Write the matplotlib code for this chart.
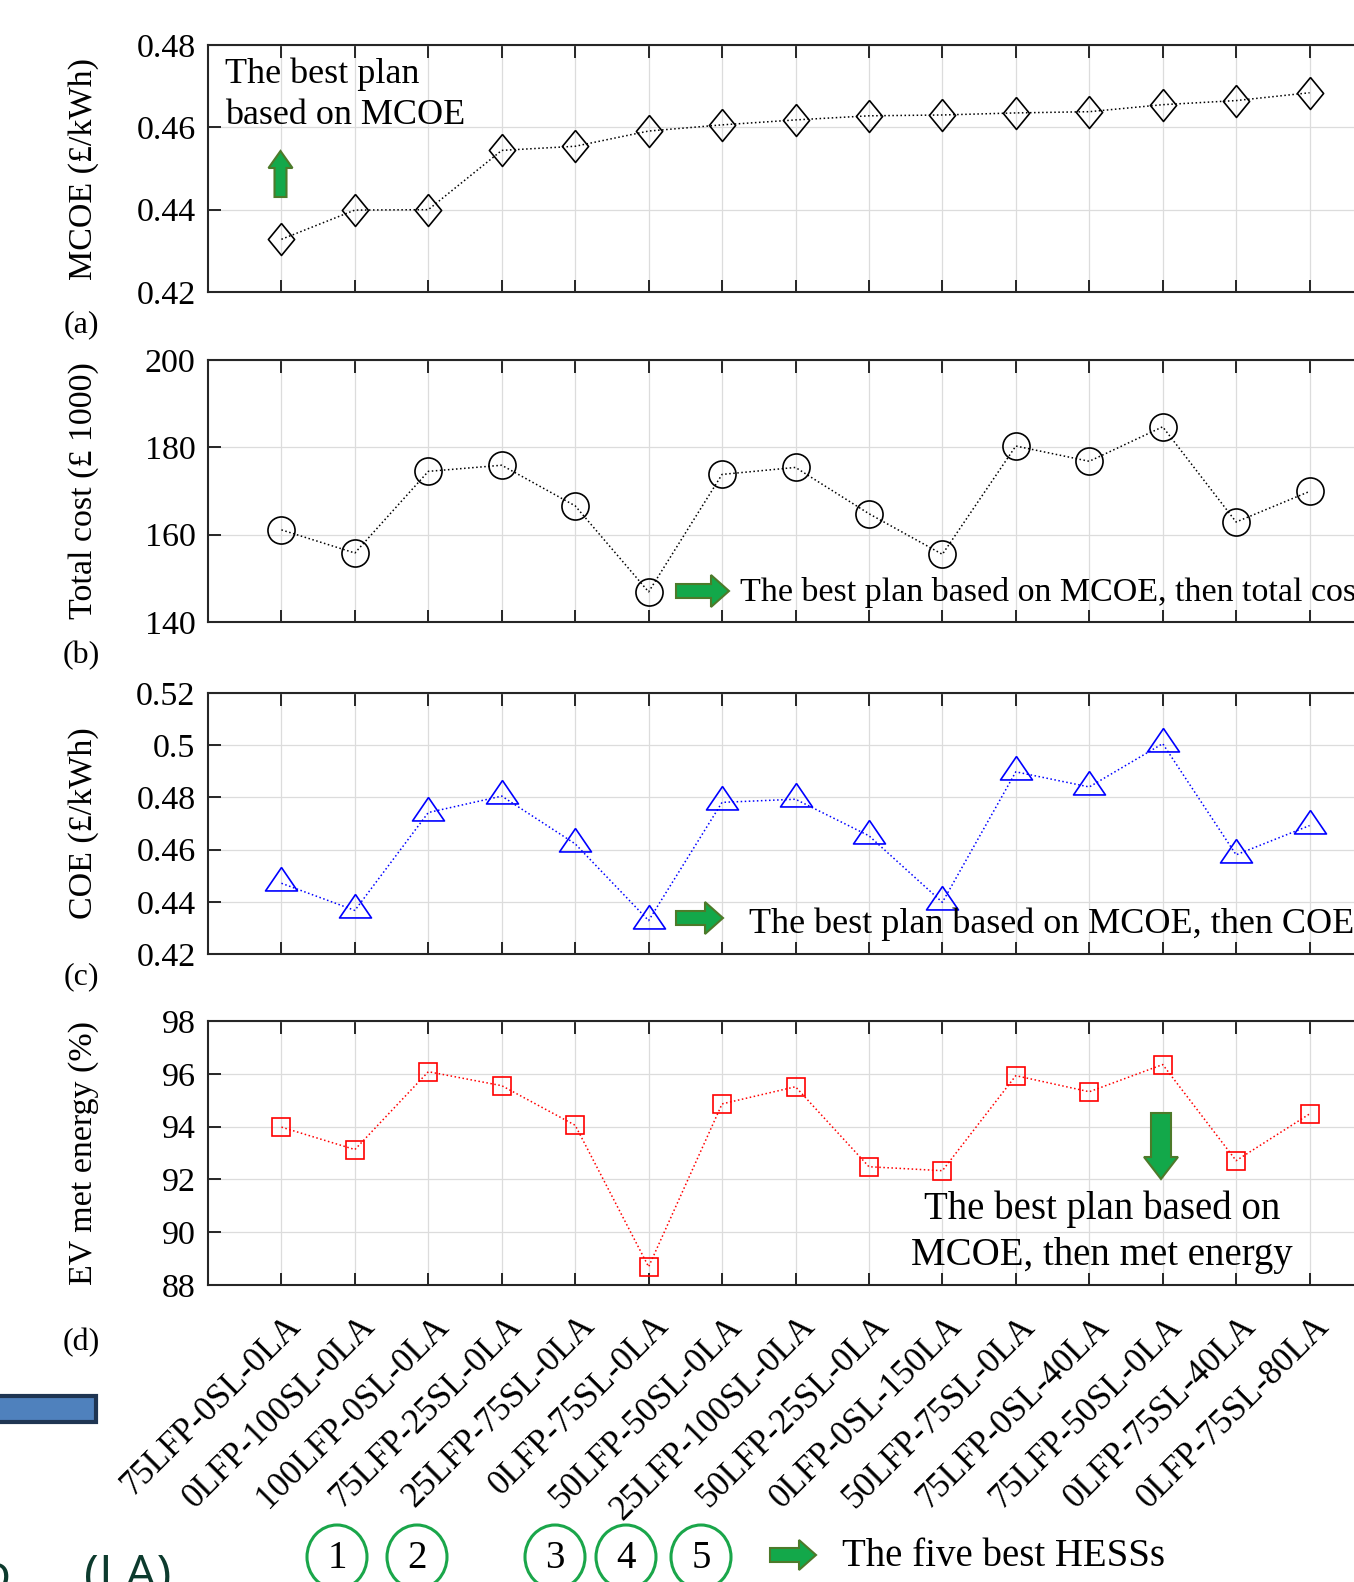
import numpy as np
import matplotlib
matplotlib.use("Agg")
import matplotlib.pyplot as plt
import matplotlib.transforms as mtransforms
from matplotlib.patches import FancyArrow, Ellipse, Rectangle
from matplotlib.path import Path
from matplotlib.ticker import FuncFormatter

plt.rcParams['font.family'] = ['Liberation Serif', 'DejaVu Serif']
plt.rcParams['mathtext.fontset'] = 'stix'

# plans (x axis), sorted by MCOE
plans = ['75LFP-0SL-0LA', '0LFP-100SL-0LA', '100LFP-0SL-0LA', '75LFP-25SL-0LA',
         '25LFP-75SL-0LA', '0LFP-75SL-0LA', '50LFP-50SL-0LA', '25LFP-100SL-0LA',
         '50LFP-25SL-0LA', '0LFP-0SL-150LA', '50LFP-75SL-0LA', '75LFP-0SL-40LA',
         '75LFP-50SL-0LA', '0LFP-75SL-40LA', '0LFP-75SL-80LA']

mcoe = [0.4328, 0.4399, 0.4400, 0.4544, 0.4554, 0.4591, 0.4606, 0.4618,
        0.4628, 0.4630, 0.4635, 0.4638, 0.4655, 0.4665, 0.4684]
total_cost = [161.1, 155.8, 174.5, 175.9, 166.6, 146.9, 173.8, 175.4,
              164.8, 155.5, 180.3, 176.8, 184.7, 162.9, 169.9]
coe = [0.4471, 0.4367, 0.4742, 0.4805, 0.4622, 0.4328, 0.4781, 0.4793,
       0.4653, 0.4398, 0.4898, 0.4840, 0.5006, 0.4580, 0.4692]
met_energy = [93.98, 93.13, 96.08, 95.55, 94.05, 88.69, 94.86, 95.51,
              92.48, 92.33, 95.93, 95.32, 96.35, 92.71, 94.48]

best_five = ['1', '2', '3', '4', '5']

W, H, DPI = 1354, 1582, 100
fig = plt.figure(figsize=(W / DPI, H / DPI), dpi=DPI)
# pixel coordinates, origin top-left
px = mtransforms.Affine2D().scale(1 / DPI, -1 / DPI).translate(0, H / DPI) + fig.dpi_scale_trans

diamond = Path([(0, 14), (11.5, 0), (0, -14), (-11.5, 0), (0, 14)])
triangle = Path([(0, 15), (15, -7), (-15, -7), (0, 15)])

panels = [
    # values, ylim, step, ylabel, color, marker, ms, top px, bottom px, tag
    (mcoe, (0.42, 0.48), 0.02, 'MCOE (£/kWh)', 'black', diamond, 23, 45, 292, '(a)', 325),
    (total_cost, (140, 200), 20, 'Total cost (£ 1000)', 'black', 'o', 19.5, 360, 622, '(b)', 656),
    (coe, (0.42, 0.52), 0.02, 'COE (£/kWh)', 'blue', triangle, 23, 693, 954, '(c)', 977),
    (met_energy, (88, 98), 2, 'EV met energy (%)', 'red', 's', 12.5, 1021, 1285, '(d)', 1343),
]

x = np.arange(1, len(plans) + 1)
ax_left, ax_w = 208, 1175
axes = []
for vals, ylim, step, ylabel, col, mk, ms, top, bot, tag, tag_y in panels:
    ax = fig.add_axes([ax_left / W, 1 - bot / H, ax_w / W, (bot - top) / H])
    ax.plot(x, vals, linestyle=':', color=col, linewidth=1.1, marker=mk,
            markersize=ms, markerfacecolor='none', markeredgecolor=col,
            markeredgewidth=1.2)
    ax.set_xlim(0, 16)
    ax.set_ylim(*ylim)
    ax.set_xticks(x)
    ax.set_yticks(np.arange(ylim[0], ylim[1] + step / 2, step))
    ax.yaxis.set_major_formatter(FuncFormatter(lambda v, p: '%g' % round(v, 4)))
    ax.grid(True, color='#dcdcdc', linewidth=0.9)
    ax.set_axisbelow(True)
    ax.tick_params(direction='in', length=9, width=1.4, top=True, right=True,
                   labelsize=24.5, pad=9, colors='#262626', labelcolor='black')
    for s in ax.spines.values():
        s.set_linewidth(1.5)
        s.set_color('#262626')
    ax.set_ylabel(ylabel, fontsize=24.5, va='center')
    ax.yaxis.set_label_coords(-0.106, 0.5)
    ax.set_xticklabels([])
    fig.text(81, tag_y, tag, transform=px, fontsize=23, ha='center', va='center')
    axes.append(ax)

ax_d = axes[-1]
ax_d.set_xticklabels(plans, rotation=45, ha='right', va='center',
                     rotation_mode='anchor', fontsize=25)
ax_d.tick_params(axis='x', pad=26)
offset = mtransforms.ScaledTranslation(15 / DPI, 0, fig.dpi_scale_trans)
for lab in ax_d.get_xticklabels():
    lab.set_transform(lab.get_transform() + offset)

green = '#13a84a'
green_edge = '#4d7a2a'


def block_arrow(x0, y0, x1, y1, shaft, head_w, head_l):
    fig.patches.append(FancyArrow(x0, y0, x1 - x0, y1 - y0, width=shaft,
                                  head_width=head_w, head_length=head_l,
                                  length_includes_head=True, transform=px,
                                  facecolor=green, edgecolor=green_edge,
                                  linewidth=1.5))


# (a)
fig.text(225, 74, 'The best plan', transform=px, fontsize=26, va='center')
fig.text(225, 116, 'based on MCOE', transform=px, fontsize=26, va='center')
block_arrow(280.5, 197, 280.5, 151, 12, 24, 17)
# (b)
block_arrow(676, 591, 729, 591, 14, 32, 18)
fig.text(740, 593, 'The best plan based on MCOE, then total cost', transform=px,
         fontsize=24.5, va='center')
# (c)
block_arrow(676, 918, 723, 918, 14, 32, 18)
fig.text(749, 924, 'The best plan based on MCOE, then COE', transform=px,
         fontsize=26, va='center')
# (d)
block_arrow(1161, 1113, 1161, 1179, 20, 34, 22)
fig.text(1102, 1209, 'The best plan based on', transform=px, fontsize=28,
         ha='center', va='center')
fig.text(1102, 1256, 'MCOE, then met energy', transform=px, fontsize=28,
         ha='center', va='center')

# bottom legend of the five best plans
for num, cx in zip(best_five, [337, 417, 555, 626, 701]):
    fig.patches.append(Ellipse((cx, 1557), 60, 64, transform=px, fill=False,
                               edgecolor='#1aa64a', linewidth=2.2))
    fig.text(cx, 1559, num, transform=px, fontsize=28, ha='center', va='center')
block_arrow(770, 1555, 816, 1555, 14, 30, 17)
fig.text(842, 1557, 'The five best HESSs', transform=px, fontsize=28, va='center')

# pieces of the surrounding slide
fig.patches.append(Rectangle((-10, 1396), 106, 26, transform=px,
                             facecolor='#4f81bd', edgecolor='#1f3552',
                             linewidth=3))
fig.text(84, 1553, '(LA)', transform=px, fontsize=36, va='top',
         color='#0d3b2e', family=['Open Sans', 'DejaVu Sans'])
fig.text(-20, 1553, 'o', transform=px, fontsize=36, va='top',
         color='#0d3b2e', family=['Open Sans', 'DejaVu Sans'])

fig.savefig('out.png', dpi=DPI)
